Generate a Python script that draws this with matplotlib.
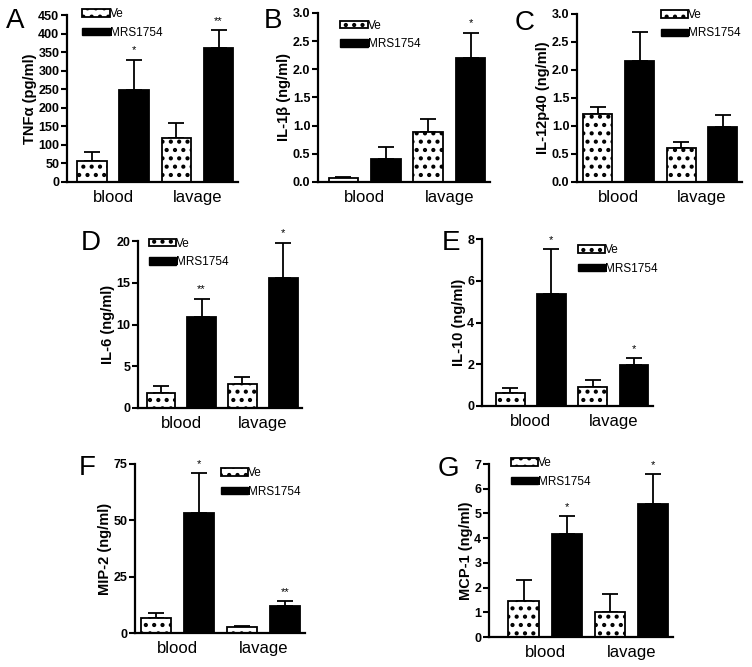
import matplotlib
matplotlib.use('Agg')
import matplotlib.pyplot as plt
import numpy as np
from matplotlib.patches import Patch

plt.rcParams['font.family'] = ['Liberation Sans', 'DejaVu Sans']
plt.rcParams['hatch.linewidth'] = 1.8

# data (mean and upper error, per group: blood, lavage)
groups = ['blood', 'lavage']
series = ['Ve', 'MRS1754']

tnf_ve, tnf_ve_err = [57, 118], [23, 40]
tnf_mrs, tnf_mrs_err = [248, 362], [82, 48]

il1b_ve, il1b_ve_err = [0.07, 0.89], [0.02, 0.22]
il1b_mrs, il1b_mrs_err = [0.41, 2.21], [0.22, 0.44]

il12_ve, il12_ve_err = [1.22, 0.60], [0.12, 0.11]
il12_mrs, il12_mrs_err = [2.16, 0.98], [0.52, 0.21]

il6_ve, il6_ve_err = [1.8, 2.9], [0.8, 0.8]
il6_mrs, il6_mrs_err = [10.9, 15.6], [2.2, 4.2]

il10_ve, il10_ve_err = [0.6, 0.9], [0.25, 0.35]
il10_mrs, il10_mrs_err = [5.38, 1.98], [2.12, 0.30]

mip2_ve, mip2_ve_err = [6.8, 2.5], [2.2, 0.7]
mip2_mrs, mip2_mrs_err = [53.3, 12.0], [17.7, 2.0]

mcp1_ve, mcp1_ve_err = [1.47, 1.03], [0.83, 0.72]
mcp1_mrs, mcp1_mrs_err = [4.18, 5.38], [0.72, 1.20]

stars = {
    'A': ['*', '**'], 'B': ['', '*'], 'C': ['', ''], 'D': ['**', '*'],
    'E': ['*', '*'], 'F': ['*', '**'], 'G': ['*', '*'],
}

panels = [
    ('A', 'TNF\u03b1 (pg/ml)', tnf_ve, tnf_ve_err, tnf_mrs, tnf_mrs_err, np.arange(0, 451, 50), '{:.0f}'),
    ('B', 'IL-1\u03b2 (ng/ml)', il1b_ve, il1b_ve_err, il1b_mrs, il1b_mrs_err, np.arange(0, 3.01, 0.5), '{:.1f}'),
    ('C', 'IL-12p40 (ng/ml)', il12_ve, il12_ve_err, il12_mrs, il12_mrs_err, np.arange(0, 3.01, 0.5), '{:.1f}'),
    ('D', 'IL-6 (ng/ml)', il6_ve, il6_ve_err, il6_mrs, il6_mrs_err, np.arange(0, 21, 5), '{:.0f}'),
    ('E', 'IL-10 (ng/ml)', il10_ve, il10_ve_err, il10_mrs, il10_mrs_err, np.arange(0, 9, 2), '{:.0f}'),
    ('F', 'MIP-2 (ng/ml)', mip2_ve, mip2_ve_err, mip2_mrs, mip2_mrs_err, np.arange(0, 76, 25), '{:.0f}'),
    ('G', 'MCP-1 (ng/ml)', mcp1_ve, mcp1_ve_err, mcp1_mrs, mcp1_mrs_err, np.arange(0, 8, 1), '{:.0f}'),
]

# layout in pixels: axes (left, top, right, bottom), xlim left, legend anchor, letter position
W, H = 752, 667
layout = {
    'A': ((67, 15, 238, 182), -0.545, (0.09, 1.04), (6, 28)),
    'B': ((318, 13, 490, 182), -0.55, (0.13, 0.96), (264, 28)),
    'C': ((577, 14, 742, 182), -0.50, (0.51, 1.03), (515, 30)),
    'D': ((138, 241, 302, 408), -0.53, (0.065, 1.02), (81, 250)),
    'E': ((482, 239, 653, 406), -0.59, (0.56, 0.97), (442, 250)),
    'F': ((135, 464, 305, 633), -0.50, (0.505, 0.98), (79, 475)),
    'G': ((489, 464, 673, 637), -0.65, (0.12, 1.04), (438, 476)),
}

fig = plt.figure(figsize=(W / 100, H / 100), dpi=100)

x = np.arange(len(groups))
off, width = 0.25, 0.35
dots = '..'

for letter, ylabel, ve, ve_err, mrs, mrs_err, yticks, fmt in panels:
    (l, t, r, b), xl, leg_anchor, (lx, ly) = layout[letter]
    ax = fig.add_axes([l / W, 1 - b / H, (r - l) / W, (b - t) / H])

    ax.bar(x - off, ve, width, color='white', edgecolor='black', hatch=dots, linewidth=1.3, zorder=2)
    ax.bar(x + off, mrs, width, color='black', edgecolor='black', linewidth=1.3, zorder=2)
    ax.errorbar(x - off, ve, yerr=[np.zeros(2), ve_err], fmt='none', ecolor='black',
                elinewidth=1.3, capsize=5.5, capthick=1.3, zorder=1)
    ax.errorbar(x + off, mrs, yerr=[np.zeros(2), mrs_err], fmt='none', ecolor='black',
                elinewidth=1.3, capsize=5.5, capthick=1.3, zorder=1)

    for xi, m, e, s in zip(x + off, mrs, mrs_err, stars[letter]):
        if s:
            ax.annotate(s, (xi, m + e), xytext=(0, 3), textcoords='offset points',
                        ha='center', va='bottom', fontsize=8)

    ax.set_xlim(xl, 1.48)
    ax.set_ylim(0, yticks[-1])
    ax.set_yticks(yticks)
    ax.set_yticklabels([fmt.format(v) for v in yticks], fontsize=9, fontweight='bold')
    ax.set_xticks(x)
    ax.set_xticklabels(groups, fontsize=12)
    ax.tick_params(axis='x', length=0, pad=6)
    ax.tick_params(axis='y', length=4, width=1.5, pad=1.5)
    ax.set_ylabel(ylabel, fontsize=10.5, fontweight='bold', labelpad=1)
    for side in ('top', 'right'):
        ax.spines[side].set_visible(False)
    for side in ('left', 'bottom'):
        ax.spines[side].set_linewidth(1.6)

    handles = [Patch(facecolor='white', edgecolor='black', hatch=dots, linewidth=1.3),
               Patch(facecolor='black', edgecolor='black')]
    ax.legend(handles, series, loc='upper left', bbox_to_anchor=leg_anchor, frameon=False,
              fontsize=8.5, handlelength=2.3, handleheight=0.6, handletextpad=0.0,
              labelspacing=0.55, borderpad=0, borderaxespad=0)

    fig.text(lx / W, 1 - ly / H, letter, fontsize=20, ha='left', va='baseline')

fig.savefig('out.png', dpi=100)
